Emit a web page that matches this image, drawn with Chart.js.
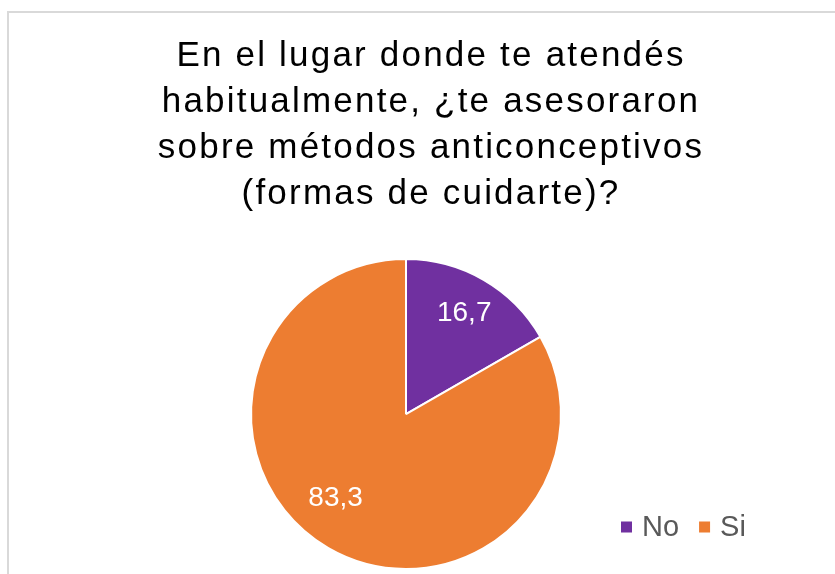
<html lang="es">
<head>
    <meta charset="UTF-8">
    <title>Asesoramiento sobre métodos anticonceptivos</title>
    <style>
        body { margin: 0; overflow: hidden; background: #fff; }
        #frame {
            position: absolute; left: 7px; top: 11px;
            width: 900px; height: 620px;
            border: 2px solid #d9d9d9;
        }
        #chartBox { position: absolute; left: 0; top: 0; }
    </style>
</head>
<body>
    <div id="frame"></div>
    <div id="chartBox"><canvas id="pieChart" width="860" height="574"></canvas></div>

    <script src="https://cdn.jsdelivr.net/npm/chart.js@4/dist/chart.umd.min.js"></script>
    <script>
        // data
        const categories = ["No", "Si"];
        const percentages = [16.7, 83.3];
        const sliceColors = ["#7030A0", "#ED7D31"];
        const titleLines = [
            "En el lugar donde te atendés",
            "habitualmente, ¿te asesoraron",
            "sobre métodos anticonceptivos",
            "(formas de cuidarte)?"
        ];

        const fontFamily = "'Liberation Sans', Arial, sans-serif";

        // the title is set a bit wider than the plain font and sits right of the pie centre
        const titleSpacing = {
            id: 'titleSpacing',
            beforeDraw(chart, args, opts) {
                chart.ctx.save();
                chart.ctx.translate(opts.shiftX, 0);
                chart.ctx.letterSpacing = opts.spacing;
            },
            beforeDatasetsDraw(chart) {
                chart.ctx.restore();
                chart.ctx.letterSpacing = '0px';
            }
        };

        // value labels inside the slices
        const sliceLabels = {
            id: 'sliceLabels',
            afterDatasetsDraw(chart, args, opts) {
                const ctx = chart.ctx;
                const arcs = chart.getDatasetMeta(0).data;
                ctx.save();
                ctx.font = opts.size + 'px ' + fontFamily;
                ctx.fillStyle = '#ffffff';
                ctx.textAlign = 'center';
                ctx.textBaseline = 'middle';
                arcs.forEach(function (arc, i) {
                    const p = arc.getProps(['x', 'y', 'startAngle', 'endAngle', 'outerRadius'], true);
                    const mid = (p.startAngle + p.endAngle) / 2 + opts.angleShift[i];
                    const r = p.outerRadius * opts.radial[i];
                    const txt = chart.data.datasets[0].data[i].toFixed(1).replace('.', ',');
                    ctx.fillText(txt, p.x + Math.cos(mid) * r, p.y + Math.sin(mid) * r);
                });
                ctx.restore();
            }
        };

        // horizontal legend in the lower right corner
        const cornerLegend = {
            id: 'cornerLegend',
            afterDraw(chart, args, opts) {
                const ctx = chart.ctx;
                ctx.save();
                ctx.font = opts.size + 'px ' + fontFamily;
                ctx.textBaseline = 'middle';
                ctx.textAlign = 'left';
                let x = opts.x;
                chart.data.labels.forEach(function (label, i) {
                    ctx.fillStyle = chart.data.datasets[0].backgroundColor[i];
                    ctx.fillRect(x, opts.y - 5.5, 11, 11);
                    x += 21;
                    ctx.fillStyle = '#595959';
                    ctx.fillText(label, x, opts.y + 1);
                    x += ctx.measureText(label).width + 20;
                });
                ctx.restore();
            }
        };

        new Chart('pieChart', {
            type: 'pie',
            data: {
                labels: categories,
                datasets: [{
                    data: percentages,
                    backgroundColor: sliceColors,
                    borderColor: '#ffffff',
                    borderWidth: 2
                }]
            },
            options: {
                responsive: false,
                animation: false,
                layout: { padding: { left: 100, right: 148, top: 0, bottom: 4 } },
                plugins: {
                    title: {
                        display: true,
                        text: titleLines,
                        color: '#000000',
                        font: { family: fontFamily, size: 35, weight: 'normal', lineHeight: 1.315 },
                        padding: { top: 33, bottom: 41 }
                    },
                    legend: { display: false },
                    tooltip: { enabled: false },
                    titleSpacing: { shiftX: 25, spacing: '2.2px' },
                    sliceLabels: { size: 28, radial: [0.75, 0.71], angleShift: [0, 0.17] },
                    cornerLegend: { size: 29, x: 621, y: 527 }
                }
            },
            plugins: [titleSpacing, sliceLabels, cornerLegend]
        });
    </script>
</body>
</html>
